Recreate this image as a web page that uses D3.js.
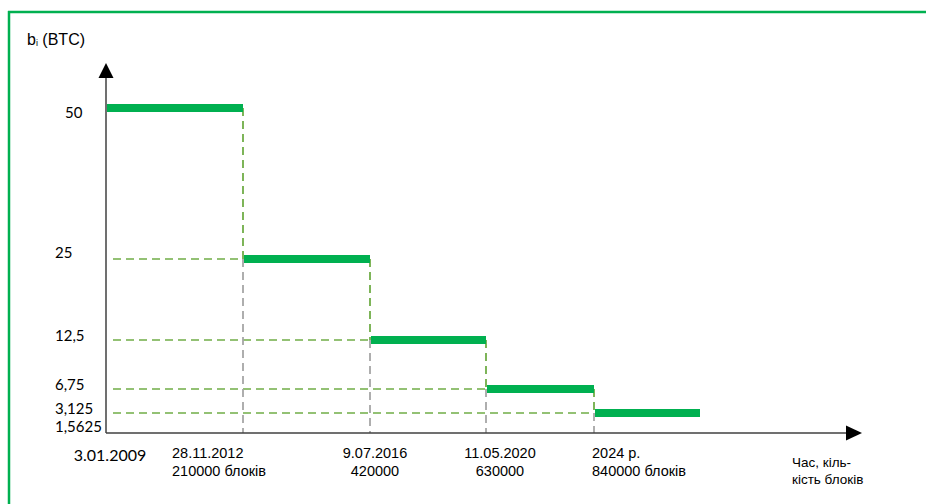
<!DOCTYPE html>
<html>
<head>
<meta charset="utf-8">
<script src="https://cdn.jsdelivr.net/npm/d3@7"></script>
<style>
  html, body { margin: 0; padding: 0; background: #fff; }
  svg { display: block; }
</style>
</head>
<body>
<svg id="chart" width="926" height="504"></svg>
<script>
// ---- data ----
const rewards = [50, 25, 12.5, 6.75, 3.125];                       // block reward per era (BTC)
const halvingBlocks = [0, 210000, 420000, 630000, 840000, 1050000]; // era boundaries (block height)
const yTickValues = [50, 25, 12.5, 6.75, 3.125, 1.5625];
const yTickLabels = ["50", "25", "12,5", "6,75", "3,125", "1,5625"];
const xDateLabels = ["3.01.2009", "28.11.2012", "9.07.2016", "11.05.2020", "2024 р."];
const xBlockLabels = ["", "210000 блоків", "420000", "630000", "840000 блоків"];
const yAxisTitle = ["b", "i", " (BTC)"];
const xAxisTitle = ["Час, кіль-", "кість блоків"];

// ---- layout ----
const svg = d3.select("#chart");
const green = "#00b050";
const dashGreen = "#70ad47";
const dashGray = "#a6a6a6";
const axisColor = "#404040";

const x = d3.scaleLinear()
  .domain(halvingBlocks)
  .range([106, 243, 370, 486, 594, 700]);
const y = d3.scaleLinear()
  .domain([1.5625, 3.125, 6.75, 12.5, 25, 50])
  .range([427, 413, 389, 340, 259, 108]);

const x0 = x(0), yAxisBase = 433;

// frame
svg.append("line").attr("x1", 9).attr("x2", 9).attr("y1", 11).attr("y2", 504)
  .attr("stroke", green).attr("stroke-width", 2.5);
svg.append("line").attr("x1", 8).attr("x2", 926).attr("y1", 12).attr("y2", 12)
  .attr("stroke", green).attr("stroke-width", 2.5);

// horizontal dashed guide lines (levels after first)
const eras = rewards.map((r, i) => ({ r, b0: halvingBlocks[i], b1: halvingBlocks[i + 1] }));
svg.append("g").selectAll("line").data(eras.slice(1)).join("line")
  .attr("x1", 113).attr("x2", d => x(d.b0))
  .attr("y1", d => y(d.r)).attr("y2", d => y(d.r))
  .attr("stroke", dashGreen).attr("stroke-width", 1.6)
  .attr("stroke-dasharray", "8,5");

// vertical dashed lines at halvings
const halvings = eras.slice(1).map((d, i) => ({ b: d.b0, top: rewards[i], bottom: d.r }));
svg.append("g").selectAll("line").data(halvings).join("line")
  .attr("x1", d => x(d.b)).attr("x2", d => x(d.b))
  .attr("y1", d => y(d.bottom)).attr("y2", yAxisBase)
  .attr("stroke", dashGray).attr("stroke-width", 1.8)
  .attr("stroke-dasharray", "8,5");
svg.append("g").selectAll("line").data(halvings).join("line")
  .attr("x1", d => x(d.b)).attr("x2", d => x(d.b))
  .attr("y1", d => y(d.top)).attr("y2", d => y(d.bottom))
  .attr("stroke", dashGreen).attr("stroke-width", 1.8)
  .attr("stroke-dasharray", "8,5");

// axes
svg.append("line").attr("x1", x0).attr("x2", x0).attr("y1", yAxisBase).attr("y2", 76)
  .attr("stroke", axisColor).attr("stroke-width", 1.5);
svg.append("line").attr("x1", x0).attr("x2", 848).attr("y1", yAxisBase).attr("y2", yAxisBase)
  .attr("stroke", axisColor).attr("stroke-width", 1.5);
svg.append("path").attr("d", `M${x0},63 L${x0 + 7.5},78 L${x0 - 7.5},78 Z`).attr("fill", "#000");
svg.append("path").attr("d", `M862,${yAxisBase} L846,${yAxisBase - 7.5} L846,${yAxisBase + 7.5} Z`).attr("fill", "#000");

// step bars
svg.append("g").selectAll("line").data(eras).join("line")
  .attr("x1", d => x(d.b0) + 1).attr("x2", d => x(d.b1))
  .attr("y1", d => y(d.r)).attr("y2", d => y(d.r))
  .attr("stroke", green).attr("stroke-width", 8);

// y tick labels
svg.append("g").selectAll("text").data(yTickValues).join("text")
  .attr("x", (d, i) => i === 0 ? 65 : 55)
  .attr("y", (d, i) => y(d) + (i === 0 ? 10 : i === 1 ? -1 : i === 5 ? 5 : 1))
  .attr("font-family", "Lato, 'Open Sans', sans-serif")
  .attr("font-size", 15).attr("fill", "#000")
  .text((d, i) => yTickLabels[i]);

// y axis title
const yt = svg.append("text").attr("x", 27).attr("y", 45)
  .attr("font-family", "'Liberation Sans', Arial, sans-serif").attr("font-size", 16).attr("fill", "#000");
yt.append("tspan").text(yAxisTitle[0]);
yt.append("tspan").attr("font-size", 9).attr("dy", 1).text(yAxisTitle[1]);
yt.append("tspan").attr("dy", -1).text(yAxisTitle[2]);

// x labels
const labelLayout = [
  { anchor: "middle", dx: 4 },
  { anchor: "start", dx: -71 },
  { anchor: "middle", dx: 5 },
  { anchor: "middle", dx: 14 },
  { anchor: "start", dx: -2 }
];
svg.append("text")
  .attr("x", x(halvingBlocks[0]) + labelLayout[0].dx).attr("y", 461)
  .attr("text-anchor", "middle")
  .attr("font-family", "Lato, 'Open Sans', sans-serif").attr("font-size", 16).attr("fill", "#000")
  .text(xDateLabels[0]);
const xl = svg.append("g").selectAll("text").data(d3.range(1, xDateLabels.length)).join("text")
  .attr("font-family", "'Liberation Sans', Arial, sans-serif").attr("font-size", 14.5).attr("fill", "#000")
  .attr("text-anchor", i => labelLayout[i].anchor);
xl.append("tspan")
  .attr("x", i => x(halvingBlocks[i]) + labelLayout[i].dx).attr("y", 458)
  .text(i => xDateLabels[i]);
xl.append("tspan")
  .attr("x", i => x(halvingBlocks[i]) + labelLayout[i].dx).attr("y", 476)
  .text(i => xBlockLabels[i]);

// x axis title
svg.append("g").selectAll("text").data(xAxisTitle).join("text")
  .attr("x", 792).attr("y", (d, i) => 467 + i * 17)
  .attr("font-family", "'Liberation Sans', Arial, sans-serif").attr("font-size", 13.5).attr("fill", "#000")
  .text(d => d);
</script>
</body>
</html>
